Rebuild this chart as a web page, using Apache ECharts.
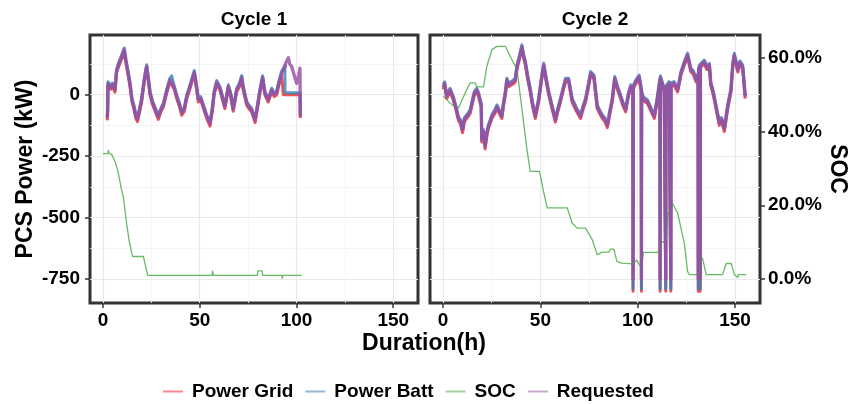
<!DOCTYPE html>
<html>
<head>
<meta charset="utf-8">
<script src="https://cdn.jsdelivr.net/npm/echarts@6/dist/echarts.min.js"></script>
<style>html,body{margin:0;padding:0;background:#fff;}#chart{width:850px;height:404px;}</style>
</head>
<body>
<div id="chart"></div>
<script>
// ---------- data ----------
const panelTitles = ['Cycle 1', 'Cycle 2'];
const seriesNames = ['Power Grid', 'Power Batt', 'SOC', 'Requested'];
const xTicks = [0, 50, 100, 150];
const xMinor = [25, 75, 125];
const powerTicks = [-750, -500, -250, 0];
const powerMinor = [-625, -375, -125, 125];
const socTicks = [0, 20, 40, 60];

// Cycle 1 power (kW)
const c1Hours = [2.2,2.4,2.6,3.1,4,5,6.2,7,8,9,10,11,12,13,14,15,16,17,17.8,19,20,21,22,22.6,23.5,24.3,25.5,27,28.6,30,31.2,32.5,33.5,34.6,35.5,36.8,38.1,39.5,40.7,42,43.3,44.5,46,47.2,48.2,49.3,50.5,52,53.6,55.3,56.5,57.5,58.8,60.5,62,63,64.8,66,67.3,69.1,70.5,71.7,72.5,74.3,75.5,76.8,78.6,80,81,82.5,83.7,85.4,87.2,88.5,89.7,91,92.3,93.2,94,94.1,94.5,95.8,96.5,97.5,98.8,100.1,101,101.8,102];
const c1Requested = [-95,-70,45,53,30,40,19,95,120,140,135,182,130,88,40,-22,-50,-88,-100,-60,-20,40,90,114,60,7,-30,-60,-92,-60,-42,0,30,60,68,30,-8,-40,-75,-60,-8,20,60,90,40,-22,-15,-50,-89,-118,-60,10,50,25,-20,-49,33,0,-60,19,40,70,26,-35,-50,-62,-105,-40,10,70,6,-22,19,0,6,50,87,100,112,114,130,150,125,114,80,46,70,107,-89];
const c1Grid = [-105,-80,38,45,22,32,10,88,112,132,128,172,122,80,32,-30,-58,-97,-110,-68,-28,32,82,106,52,-1,-38,-68,-101,-68,-50,-8,22,52,60,22,-16,-48,-84,-68,-16,12,52,82,32,-30,-23,-58,-97,-128,-68,2,42,17,-28,-57,25,-8,-68,11,32,62,18,-43,-58,-70,-114,-48,2,62,-2,-30,11,-8,-2,42,79,0,0,0,0,0,0,0,0,0,0,0,-95];
const c1Batt = [-88,-62,52,60,38,47,26,102,128,148,143,190,138,96,47,-15,-43,-80,-92,-53,-13,47,98,122,67,14,-23,-53,-85,-53,-35,7,37,67,76,37,-1,-33,-68,-53,-1,27,67,98,47,-15,-8,-43,-82,-110,-53,17,57,32,-13,-42,40,7,-53,26,47,78,33,-28,-43,-55,-98,-33,17,77,13,-15,26,7,13,57,94,107,119,8,8,8,8,8,8,8,8,8,-85];

// Cycle 2 power (kW)
const c2Hours = [0,0.8,1.9,3.6,5.3,6.5,7.9,9,10,11,12.2,13.9,15,16.1,17.3,18.3,19.1,19.6,19.9,20.8,21.6,22.5,23.3,25.1,26.5,27.7,29,30.2,31,32,32.8,33.7,34.5,35.8,37.1,38,39.2,40.5,41.3,42.3,43.5,44.8,46,47.4,49.1,50.5,51.7,53,54.3,56,57.7,59,60.3,61.6,62.9,64.5,66.3,68.5,70.6,72,73.2,74.5,75.8,77.5,79.2,80.5,81.8,83,84.4,85.7,86.9,88.2,89.5,91.2,92.5,93.8,95.2,96.4,97.5,97.6,97.7,98.8,100.7,101.8,101.9,102,102.4,103.5,105,106.8,108.5,110,111.4,111.5,111.6,111.9,113.6,114.3,114.4,114.5,116.1,116.9,117,117.1,118.7,120.5,122.2,124,125.6,127.3,128.6,129.9,131,131.1,131.3,131.5,131.6,131.8,132,132.1,132.2,133,134.2,135.5,136.8,137.5,139,140.2,141.9,143,144.5,146.2,147.9,148.8,149.6,150.5,151.4,152.5,153.9,155.2];
const c2Requested = [30,45,-8,19,-15,-50,-96,-110,-145,-100,-89,-69,-30,6,19,0,-28,-40,-184,-150,-211,-160,-130,-89,-70,-49,-70,-89,-40,6,60,40,33,50,60,114,150,195,160,128,70,19,-40,-89,-22,60,121,60,6,-50,-103,-60,-22,20,60,60,-22,-60,-89,-50,-22,30,87,73,-49,-70,-89,-100,-125,-70,-22,67,30,-8,-40,-62,0,33,25,-750,30,50,73,20,-750,10,-8,-20,-28,-60,-89,-20,60,-750,70,73,19,25,-750,28,46,40,-750,42,46,19,87,130,161,100,90,60,80,-750,90,110,-750,114,115,-750,118,120,134,110,120,46,0,-49,-116,-100,-140,-49,19,120,160,130,100,130,114,-8];
const c2Grid = [22,37,-16,11,-23,-58,-105,-119,-155,-108,-97,-77,-38,-2,11,-8,-36,-48,-193,-158,-221,-168,-138,-97,-78,-57,-78,-97,-48,-2,52,32,25,42,52,106,142,186,152,120,62,11,-48,-97,-30,52,113,52,-2,-58,-112,-68,-30,12,52,52,-30,-68,-97,-58,-30,22,79,65,-57,-78,-97,-108,-134,-78,-30,59,22,-16,-48,-70,-8,25,17,-800,22,42,65,12,-800,2,-16,-28,-36,-68,-97,-28,52,-800,62,65,11,17,-800,20,38,32,-800,34,38,11,79,122,152,92,82,52,72,-800,82,102,-800,106,107,-800,110,112,126,102,112,38,-8,-57,-125,-108,-150,-57,11,112,152,122,92,122,106,-16];
const c2Batt = [40,52,-1,26,-8,-43,-89,-103,-137,-93,-82,-62,-23,13,26,7,-21,-33,-176,-143,-203,-153,-123,-82,-63,-42,-63,-82,-33,13,67,47,40,57,67,121,158,203,168,135,77,26,-33,-82,-15,67,129,67,13,-43,-96,-53,-15,27,67,67,-15,-53,-82,-43,-15,37,94,80,-42,-63,-82,-93,-118,-63,-15,74,37,-1,-33,-55,7,40,32,-790,37,57,80,27,-790,17,-1,-13,-21,-53,-82,-13,67,-790,77,80,26,32,-790,35,53,47,-790,49,53,26,94,137,169,107,97,67,87,-790,97,117,-790,121,122,-790,125,127,141,117,127,53,7,-42,-109,-93,-132,-42,26,127,168,137,107,137,121,-1];

// State of charge (%)
const c1SocHours = [0,2.5,2.8,3.2,4.5,5.3,6.5,7.9,9.6,10.5,12.2,13.5,15.3,20.9,23.1,56.4,56.6,57.0,57.2,79.8,80.0,82.3,82.5,92.4,92.6,93.0,102.7];
const c1Soc = [34.0,34.0,34.9,34.0,33.8,33.3,31.5,28.8,24.2,22.4,15.2,10.5,6.1,6.1,1.0,1.0,2.2,2.2,1.0,1.0,2.2,2.2,1.0,1.0,0.2,1.0,1.0];
const c2SocHours = [0,4.5,7.9,12.2,13.9,16.5,17.4,20.8,22.5,25.1,27.7,32,34.5,38,39.7,43.1,44.8,49.6,51.5,53.5,63.8,66.3,68.9,73.2,76.6,79.2,81.8,85.2,86,87.7,89.3,91.7,97.7,99.4,101.9,102.9,110.1,111.6,112.3,113.7,114.6,115.3,117,117.8,120.5,123.9,125.6,126.4,131.6,132.5,133.3,135.2,143.6,145.4,148,149.6,151.4,151.6,155.7];
const c2Soc = [49.6,47.3,46.4,51.4,53.2,53.2,52.1,52.1,57.7,62.2,63.1,63.1,60.4,56.8,49.6,35.1,29.2,29.2,24.0,19.3,19.3,15.2,13.8,13.8,10.7,6.6,7.3,7.3,8.1,8.1,4.8,4.3,4.1,5.1,3.0,7.2,7.2,8.2,10.1,10.1,9.4,17.9,17.4,20.6,17.9,9.8,2.1,1.2,1.2,6.1,5.5,1.2,1.2,4.2,4.2,1.2,0.4,1.2,1.2];

// ---------- styling ----------
const FONT = '"Liberation Sans", Arial, Helvetica, sans-serif';
const lineColors = ['rgba(228,26,28,0.75)', 'rgba(55,126,184,0.8)', 'rgba(77,175,74,0.85)', 'rgba(152,78,163,0.82)'];
const keyColors = ['#F3898B', '#94B9D9', '#9ED49C', '#CAA3D0'];
const lineWidths = [3, 3, 1.3, 3.4];

const X_MIN = -6.7, X_MAX = 162.8;
const P_MIN = -847.6, P_MAX = 242.6;
const S_MIN = (P_MIN + 750) / 15, S_MAX = (P_MAX + 750) / 15;

const grids = [
  { left: 90, top: 35, width: 328, height: 268 },
  { left: 430, top: 35, width: 330, height: 268 }
];

const cycles = [
  { hours: c1Hours, grid: c1Grid, batt: c1Batt, req: c1Requested, socH: c1SocHours, soc: c1Soc },
  { hours: c2Hours, grid: c2Grid, batt: c2Batt, req: c2Requested, socH: c2SocHours, soc: c2Soc }
];

function pts(xs, ys) { return xs.map((x, i) => [x, ys[i]]); }

const labelStyle = { fontFamily: FONT, fontSize: 19, fontWeight: 'bold', color: '#000' };
const tickStyle = { color: '#333', width: 1.5 };

const xAxes = grids.map((g, k) => ({
  type: 'value', gridIndex: k, min: X_MIN, max: X_MAX, position: 'bottom',
  axisLine: { show: false, onZero: false },
  axisTick: { show: true, length: 5, lineStyle: tickStyle, customValues: xTicks },
  axisLabel: Object.assign({ margin: 8, customValues: xTicks }, labelStyle),
  splitLine: { show: false }
}));

const yAxes = [
  {
    type: 'value', gridIndex: 0, position: 'left', min: P_MIN, max: P_MAX,
    axisLine: { show: false, onZero: false },
    axisTick: { show: true, length: 5, lineStyle: tickStyle, customValues: powerTicks },
    axisLabel: Object.assign({ margin: 10, customValues: powerTicks }, labelStyle),
    splitLine: { show: false },
    name: 'PCS Power (kW)', nameLocation: 'middle', nameGap: 53,
    nameTextStyle: { fontFamily: FONT, fontSize: 23, fontWeight: 'bold', color: '#000' }
  },
  { type: 'value', gridIndex: 0, position: 'right', min: S_MIN, max: S_MAX, show: false, axisLine: { onZero: false } },
  { type: 'value', gridIndex: 1, position: 'left', min: P_MIN, max: P_MAX, show: false, axisLine: { onZero: false } },
  {
    type: 'value', gridIndex: 1, position: 'right', min: S_MIN, max: S_MAX,
    axisLine: { show: false, onZero: false },
    axisTick: { show: true, length: 5, lineStyle: tickStyle, customValues: socTicks },
    axisLabel: Object.assign({ margin: 8, customValues: socTicks, formatter: v => v.toFixed(1) + '%' }, labelStyle),
    splitLine: { show: false },
    name: 'SOC', nameLocation: 'middle', nameGap: 66, nameRotate: -90,
    nameTextStyle: { fontFamily: FONT, fontSize: 23, fontWeight: 'bold', color: '#000' }
  }
];

const series = [];
cycles.forEach((c, k) => {
  // grid lines via markLine on an empty helper series
  const major = { color: '#e9e9e9', width: 1.1, type: 'solid' };
  const minor = { color: '#f3f3f3', width: 0.8, type: 'solid' };
  series.push({
    type: 'line', name: '_grid' + k, xAxisIndex: k, yAxisIndex: k * 2, data: [], silent: true, z: 1,
    markLine: {
      silent: true, symbol: ['none', 'none'], label: { show: false }, z: 1, animation: false,
      data: [].concat(
        xMinor.map(v => ({ xAxis: v, lineStyle: minor })),
        powerMinor.map(v => ({ yAxis: v, lineStyle: minor })),
        xTicks.map(v => ({ xAxis: v, lineStyle: major })),
        powerTicks.map(v => ({ yAxis: v, lineStyle: major }))
      )
    }
  });
  const dataSets = [
    { d: pts(c.hours, c.grid), y: k * 2 },
    { d: pts(c.hours, c.batt), y: k * 2 },
    { d: pts(c.socH, c.soc), y: k * 2 + 1 },
    { d: pts(c.hours, c.req), y: k * 2 }
  ];
  dataSets.forEach((s, i) => {
    series.push({
      type: 'line', name: seriesNames[i], xAxisIndex: k, yAxisIndex: s.y,
      data: s.d, showSymbol: false, symbol: 'none', silent: true, z: 3 + i,
      color: lineColors[i],
      lineStyle: { color: lineColors[i], width: lineWidths[i], join: 'round' },
      emphasis: { disabled: true }
    });
  });
});

const textEl = (txt, x, y, size) => ({
  type: 'text', x: x, y: y, silent: true,
  style: {
    text: txt, fill: '#000', fontFamily: FONT, fontSize: size, fontWeight: 'bold',
    font: 'bold ' + size + 'px ' + FONT,
    align: 'center', verticalAlign: 'middle', textAlign: 'center', textVerticalAlign: 'middle'
  }
});

const option = {
  animation: false,
  backgroundColor: '#fff',
  grid: grids.map(g => Object.assign({
    show: true, borderColor: '#333', borderWidth: 3, backgroundColor: '#fff',
    containLabel: false, outerBoundsMode: 'none'
  }, g)),
  xAxis: xAxes,
  yAxis: yAxes,
  legend: {
    show: true, left: 163, top: 382, padding: 0, itemGap: 12,
    itemWidth: 20, itemHeight: 2, icon: 'rect', selectedMode: false,
    textStyle: { fontFamily: FONT, fontSize: 19, fontWeight: 'bold', color: '#000', padding: [0, 0, 0, 4] },
    data: seriesNames.map((n, i) => ({ name: n, icon: 'rect', itemStyle: { color: keyColors[i] } }))
  },
  graphic: [
    textEl(panelTitles[0], 254, 20, 19),
    textEl(panelTitles[1], 595, 20, 19),
    textEl('Duration(h)', 424, 344, 23)
  ],
  series: series
};

const chart = echarts.init(document.getElementById('chart'), null, { renderer: 'canvas' });
chart.setOption(option);
</script>
</body>
</html>
